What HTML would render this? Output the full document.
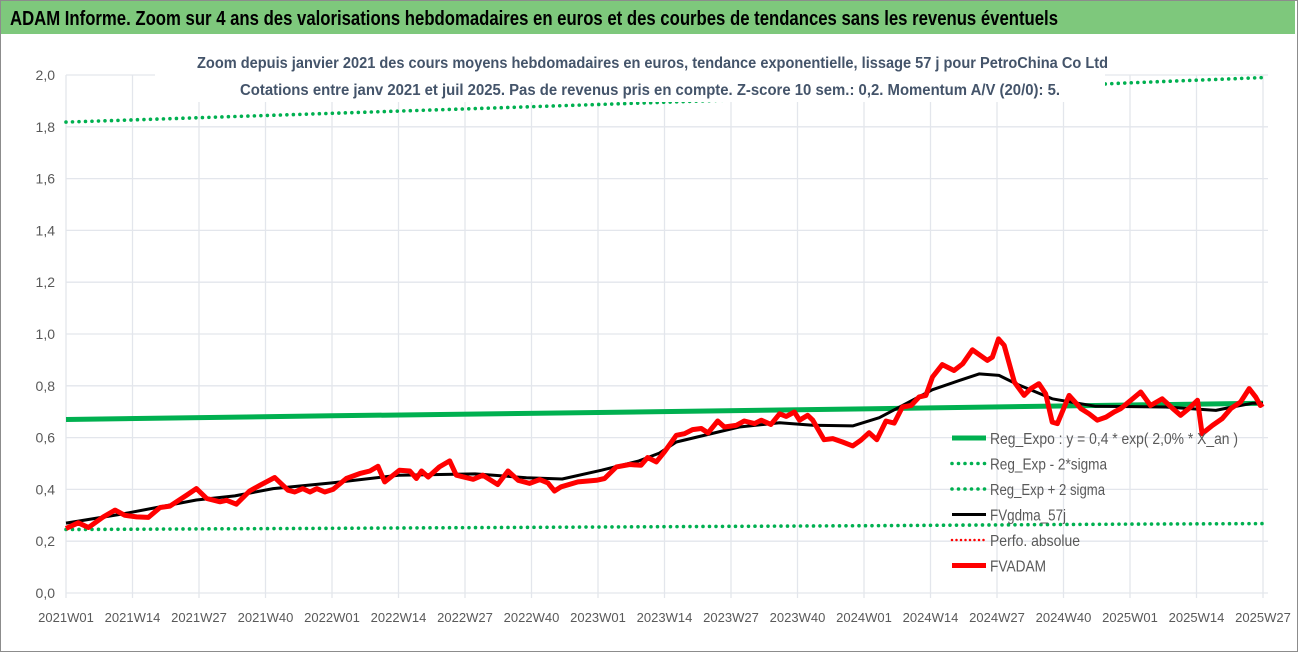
<!DOCTYPE html>
<html><head><meta charset="utf-8"><style>
html,body{margin:0;padding:0;background:#fff;}
svg{display:block;font-family:"Liberation Sans Narrow","Liberation Sans",sans-serif;}
</style></head><body>
<svg id="chart" width="1304" height="653" viewBox="0 0 1304 653" xmlns="http://www.w3.org/2000/svg">
<rect x="0" y="0" width="1304" height="653" fill="#fff"/>
<rect x="0.5" y="0.5" width="1297" height="651" fill="none" stroke="#8c8c8c" stroke-width="1"/>
<rect x="1" y="1" width="1294" height="33" fill="#7ec87c"/>
<text x="10" y="25" font-size="20" font-weight="bold" fill="#000" textLength="1048" lengthAdjust="spacingAndGlyphs">ADAM Informe. Zoom sur 4 ans des valorisations hebdomadaires en euros et des courbes de tendances sans les revenus éventuels</text>
<g id="grid"></g>
<g id="series"></g>
<rect x="155" y="40" width="950" height="62" fill="#fff"/>
<text x="197" y="68" font-size="16" font-weight="bold" fill="#44546a" textLength="911" lengthAdjust="spacingAndGlyphs">Zoom depuis janvier 2021 des cours moyens hebdomadaires en euros, tendance exponentielle, lissage 57 j pour PetroChina Co Ltd</text>
<text x="240" y="95" font-size="16" font-weight="bold" fill="#44546a" textLength="820" lengthAdjust="spacingAndGlyphs">Cotations entre janv 2021 et juil 2025. Pas de revenus pris en compte. Z-score 10 sem.: 0,2. Momentum A/V (20/0): 5.</text>
<g id="axes"></g>
<g id="legend"></g>
</svg>
<script>
const xTickLabels=["2021W01","2021W14","2021W27","2021W40","2022W01","2022W14","2022W27","2022W40","2023W01","2023W14","2023W27","2023W40","2024W01","2024W14","2024W27","2024W40","2025W01","2025W14","2025W27"];
const yTickLabels=["0,0","0,2","0,4","0,6","0,8","1,0","1,2","1,4","1,6","1,8","2,0"];
const yTickValues=[0,0.2,0.4,0.6,0.8,1.0,1.2,1.4,1.6,1.8,2.0];
const regWeeks=[0,52,104,156,208,234];
const regValues=[0.670,0.684,0.697,0.711,0.726,0.733];
const regLowValues=[0.245,0.250,0.255,0.260,0.266,0.268];
const regHighValues=[1.818,1.852,1.886,1.921,1.970,1.990];
const smaWeeks=[0,11,25.5,33,40.5,52,65,80,90,97,104.7,112,116,119.3,131.6,139.5,146,153.8,159,164.2,169.4,174.6,178.5,182.4,185.7,192.8,201.3,215,224.8,228,232,234];
const smaValues=[0.27,0.305,0.359,0.375,0.403,0.425,0.455,0.46,0.445,0.44,0.474,0.51,0.54,0.583,0.641,0.657,0.648,0.645,0.677,0.731,0.785,0.82,0.846,0.84,0.808,0.75,0.721,0.718,0.705,0.718,0.733,0.733];
const fvWeeks=[0,2.4,4.4,7.3,9.6,11.5,13.8,16.1,18.4,20.3,23.6,25.5,27.5,30.1,31.4,33.3,35.9,37.9,40.8,43.4,44.7,46.3,47.7,49,50.6,52.2,54.8,57.4,59.4,61,62.3,65.2,67.2,68.5,69.5,70.8,73,75,76.3,79.6,81.5,84.4,86.4,88.4,90.6,92.6,94.2,95.5,96.8,100.1,103.7,105.3,107.6,110.2,112.4,113.7,115.4,117,119.3,120.9,122.5,124.2,125.5,127.4,128.7,131,132.6,134.6,135.9,137.8,139.5,140.8,142.4,143.4,145,146,148.2,149.9,151.8,153.8,155.4,157,158.5,160.3,161.9,163.5,165.2,166.8,168.1,169.4,171.3,173.6,175.3,177.2,180.1,181.1,182.3,183.4,185.4,187.3,188.6,190.2,191.5,192.8,193.8,196.1,198.4,200,201.6,203.3,204.9,206.2,208.5,210.1,212,214.3,216.6,217.9,219.5,221.2,222.1,224.1,226,227.7,229.6,231.3,232.6,233.5,234];
const fvValues=[0.249,0.271,0.253,0.294,0.320,0.300,0.294,0.292,0.330,0.335,0.378,0.403,0.365,0.352,0.358,0.343,0.394,0.416,0.446,0.397,0.390,0.403,0.390,0.403,0.390,0.400,0.442,0.461,0.471,0.489,0.429,0.474,0.471,0.442,0.471,0.448,0.487,0.510,0.455,0.439,0.455,0.419,0.471,0.435,0.423,0.438,0.425,0.394,0.410,0.429,0.435,0.442,0.487,0.496,0.493,0.523,0.506,0.545,0.609,0.615,0.631,0.635,0.618,0.664,0.641,0.647,0.664,0.654,0.667,0.651,0.692,0.682,0.699,0.667,0.686,0.667,0.592,0.596,0.583,0.568,0.590,0.619,0.592,0.664,0.656,0.718,0.724,0.757,0.763,0.834,0.882,0.859,0.885,0.939,0.898,0.911,0.981,0.956,0.814,0.763,0.789,0.808,0.770,0.660,0.654,0.763,0.712,0.692,0.667,0.679,0.699,0.712,0.750,0.776,0.724,0.750,0.708,0.686,0.712,0.744,0.615,0.647,0.673,0.712,0.737,0.789,0.756,0.724,0.731];
const legendLabels=["Reg_Expo : y = 0,4 * exp( 2,0% *  X_an )","Reg_Exp - 2*sigma","Reg_Exp + 2 sigma","FVgdma_57j","Perfo. absolue","FVADAM"];

const NS="http://www.w3.org/2000/svg";
const X0=66, X1=1263, WEEKS=234, Y0=593, Y1=75, VMAX=2.0;
function xs(w){return X0+(X1-X0)*w/WEEKS;}
function ys(v){return Y0-(Y0-Y1)*v/VMAX;}
function mk(tag,attrs,parent){const e=document.createElementNS(NS,tag);for(const k in attrs)e.setAttribute(k,attrs[k]);parent.appendChild(e);return e;}
const grid=document.getElementById('grid'), axes=document.getElementById('axes'), series=document.getElementById('series'), legend=document.getElementById('legend');

yTickValues.forEach((v,i)=>{
  const l=mk('line',{x1:X0,x2:1268,y1:ys(v),y2:ys(v),stroke:'#e3e6ec','stroke-width':1.3},grid);
  
  
  const t=mk('text',{x:55,y:ys(v)+5,'font-size':14,fill:'#595959','text-anchor':'end'},axes);
  t.textContent=yTickLabels[i];
  
  
});
xTickLabels.forEach((lab,i)=>{
  const w=i*13;
  const l=mk('line',{x1:xs(w),x2:xs(w),y1:Y1,y2:Y0+5,stroke:'#e3e6ec','stroke-width':1.3},grid);
  
  
  const t=mk('text',{x:xs(w),y:622,'font-size':13,fill:'#595959','text-anchor':'middle'},axes);
  t.textContent=lab;
  
  
});
function pts(ws,vs){return ws.map((w,i)=>xs(w).toFixed(1)+','+ys(vs[i]).toFixed(1)).join(' ');}
const dot={'stroke-dasharray':'0 6.5','stroke-linecap':'round','stroke-width':3.6};
let p;
p=mk('polyline',Object.assign({points:pts(regWeeks,regHighValues),fill:'none',stroke:'#00b050'},dot),series);


p=mk('polyline',Object.assign({points:pts(regWeeks,regLowValues),fill:'none',stroke:'#00b050'},dot),series);


p=mk('polyline',{points:pts(regWeeks,regValues),fill:'none',stroke:'#00b050','stroke-width':5},series);


p=mk('polyline',{points:pts(smaWeeks,smaValues),fill:'none',stroke:'#000','stroke-width':3,'stroke-linejoin':'round'},series);


p=mk('polyline',{points:pts(fvWeeks,fvValues),fill:'none',stroke:'#ff0000','stroke-width':5,'stroke-linejoin':'round'},series);



const legStyles=[
 {stroke:'#00b050','stroke-width':5},
 Object.assign({stroke:'#00b050'},dot),
 Object.assign({stroke:'#00b050'},dot),
 {stroke:'#000','stroke-width':3},
 Object.assign({stroke:'#ff0000'},dot,{'stroke-width':2.5,'stroke-dasharray':'0 4.5'}),
 {stroke:'#ff0000','stroke-width':5}
];
const legLens=[248,117,115,76,90,56];
legendLabels.forEach((lab,i)=>{
  const y=438+i*25.5;
  const g=mk('g',{},legend);
  
  
  mk('line',Object.assign({x1:952,x2:986,y1:y,y2:y},legStyles[i]),g);
  const t=mk('text',{x:990,y:y+6,'font-size':16,fill:'#595959',textLength:legLens[i],lengthAdjust:'spacingAndGlyphs'},g);
  t.textContent=lab;
  
  
});
</script>
</body></html>
